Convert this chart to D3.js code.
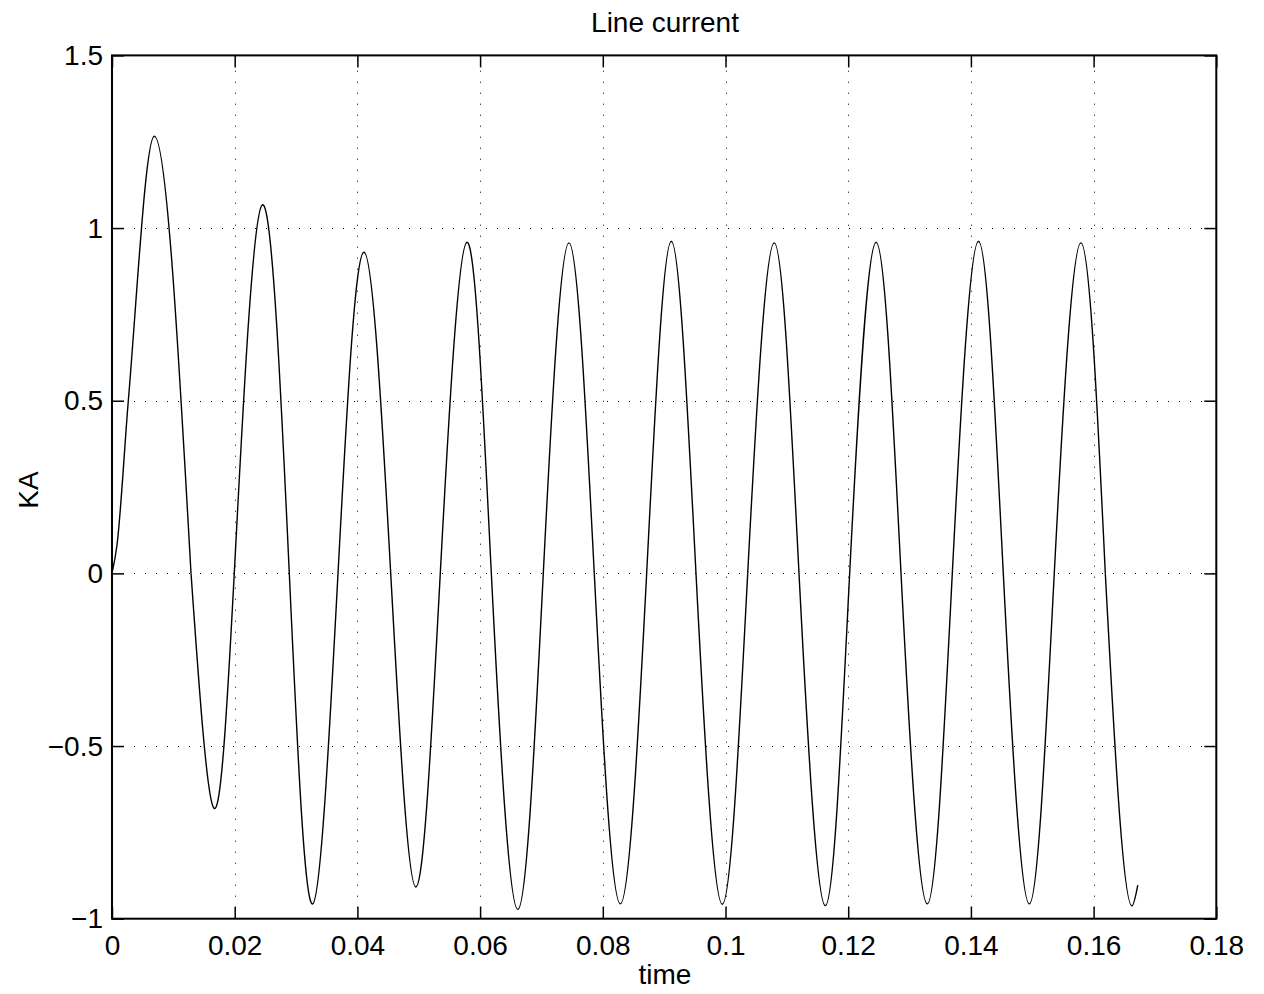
<!DOCTYPE html>
<html><head><meta charset="utf-8">
<script src="https://cdn.jsdelivr.net/npm/d3@7"></script>
<style>
body{margin:0;background:#fff;}
text{font-family:"Liberation Sans",Arial,Helvetica,sans-serif;fill:#000;}
</style>
</head><body>
<svg id="c" width="1264" height="994"></svg>
<script>
const chartTitle = "Line current";
const xLabel = "time";
const yLabel = "KA";
const xTicks = [0, 0.02, 0.04, 0.06, 0.08, 0.1, 0.12, 0.14, 0.16, 0.18];
const yTicks = [-1, -0.5, 0, 0.5, 1, 1.5];
const timeValues = [0, 0.0008, 0.00266, 0.0069, 0.01288, 0.01657, 0.01993, 0.0245, 0.0289, 0.03271, 0.03684,
  0.04108, 0.04543, 0.04952, 0.05351, 0.05786, 0.06183, 0.06615, 0.0703, 0.07449, 0.07861,
  0.08286, 0.08715, 0.09117, 0.09519, 0.09948, 0.10362, 0.10794, 0.11198, 0.11627, 0.12024,
  0.12455, 0.12861, 0.13289, 0.13697, 0.14124, 0.14528, 0.14952, 0.15359, 0.15793, 0.16191,
  0.16625, 0.1672];
const currentValues = [0, 0.08, 0.5, 1.266, 0, -0.679, 0, 1.067, 0, -0.957, 0,
  0.930, 0, -0.908, 0, 0.959, 0, -0.973, 0, 0.957, 0,
  -0.957, 0, 0.962, 0, -0.958, 0, 0.957, 0, -0.962, 0,
  0.959, 0, -0.957, 0, 0.962, 0, -0.957, 0, 0.957, 0,
  -0.963, -0.903];

const L = 112, R = 1216.3, T = 55.4, B = 918.7;
const fs = 28;
const svg = d3.select("#c");
const x = d3.scaleLinear().domain([0, 0.18]).range([L, R]);
const y = d3.scaleLinear().domain([-1, 1.5]).range([B, T]);
const fmt = d => d === 0 ? "0" : String(d).replace("-", "\u2212");

// grid
const grid = svg.append("g").attr("stroke", "#000").attr("stroke-width", 1).attr("stroke-dasharray", "1,10");
grid.selectAll("line.gx").data(xTicks.slice(1, -1)).join("line")
  .attr("x1", d => Math.round(x(d)) + 0.5).attr("x2", d => Math.round(x(d)) + 0.5)
  .attr("y1", B).attr("y2", T);
grid.selectAll("line.gy").data(yTicks.slice(1, -1)).join("line")
  .attr("y1", d => Math.round(y(d)) + 0.5).attr("y2", d => Math.round(y(d)) + 0.5)
  .attr("x1", L).attr("x2", R);

// axes
const styleAxis = g => {
  g.select(".domain").remove();
  g.selectAll(".tick line").attr("stroke", "#000").attr("stroke-width", 1.5);
  g.selectAll(".tick text").attr("font-size", fs).attr("font-family", "Liberation Sans, Arial, sans-serif");
};
svg.append("g").attr("transform", `translate(0,${B})`)
  .call(d3.axisBottom(x).tickValues(xTicks).tickFormat(fmt).tickSizeInner(-12).tickSizeOuter(0).tickPadding(16))
  .call(styleAxis);
svg.append("g").attr("transform", `translate(0,${T})`)
  .call(d3.axisTop(x).tickValues(xTicks).tickFormat("").tickSizeInner(-12).tickSizeOuter(0))
  .call(styleAxis);
svg.append("g").attr("transform", `translate(${L},0)`)
  .call(d3.axisLeft(y).tickValues(yTicks).tickFormat(fmt).tickSizeInner(-12).tickSizeOuter(0).tickPadding(9))
  .call(styleAxis);
svg.append("g").attr("transform", `translate(${R},0)`)
  .call(d3.axisRight(y).tickValues(yTicks).tickFormat("").tickSizeInner(-12).tickSizeOuter(0))
  .call(styleAxis);

// box
svg.append("rect").attr("x", L).attr("y", T).attr("width", R - L).attr("height", B - T)
  .attr("fill", "none").attr("stroke", "#000").attr("stroke-width", 2);

// line: natural spline between zero crossings, monotone at the two ends
const pts = timeValues.map((t, i) => [t, currentValues[i]]);
const lineNat = d3.line().x(d => x(d[0])).y(d => y(d[1])).curve(d3.curveNatural);
const lineMono = d3.line().x(d => x(d[0])).y(d => y(d[1])).curve(d3.curveMonotoneX);
const n = pts.length;
const segs = [
  [lineMono, pts.slice(0, 5)],
  [lineNat, pts.slice(4, n - 2)],
  [lineMono, pts.slice(n - 3)]
];
svg.append("g").selectAll("path").data(segs).join("path")
  .attr("d", s => s[0](s[1]))
  .attr("fill", "none").attr("stroke", "#000").attr("stroke-width", 1.4)
  .attr("stroke-linejoin", "round");

// labels
svg.append("text").attr("x", 665).attr("y", 32).attr("text-anchor", "middle").attr("font-size", fs).text(chartTitle);
svg.append("text").attr("x", 665).attr("y", 984).attr("text-anchor", "middle").attr("font-size", fs).text(xLabel);
svg.append("text").attr("transform", "translate(38,490) rotate(-90)").attr("text-anchor", "middle").attr("font-size", fs).text(yLabel);
</script>
</body></html>
